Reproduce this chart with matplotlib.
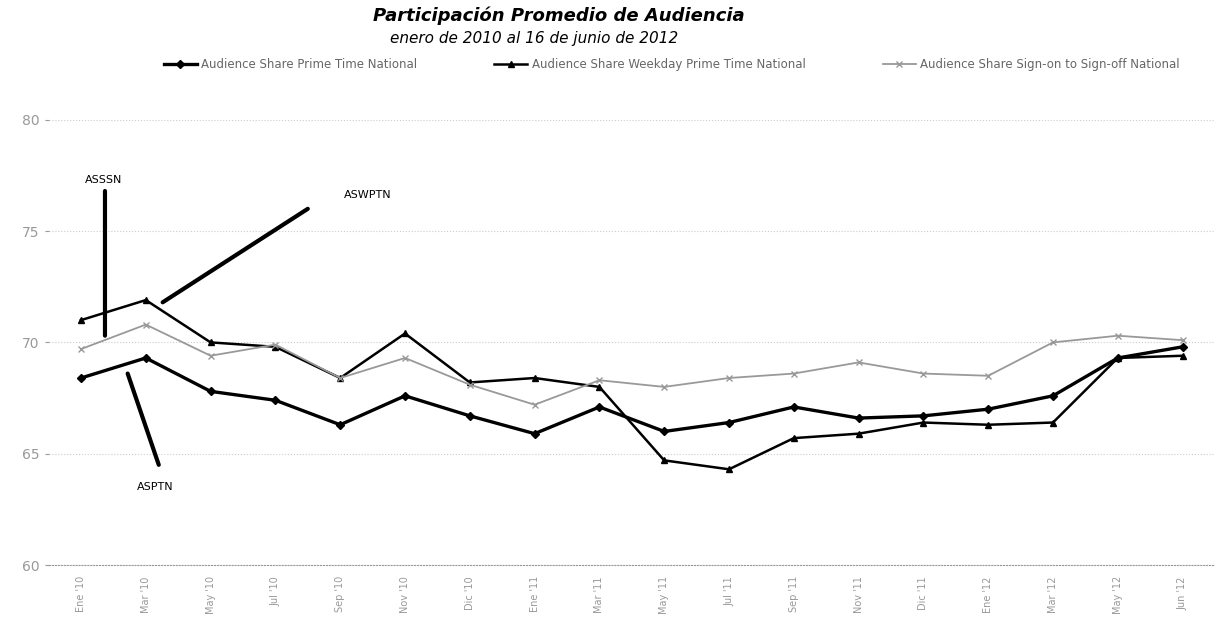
import matplotlib.pyplot as plt

months = ["Ene '10", "Mar '10", "May '10", "Jul '10", "Sep '10", "Nov '10", "Dic '10",
          "Ene '11", "Mar '11", "May '11", "Jul '11", "Sep '11", "Nov '11", "Dic '11",
          "Ene '12", "Mar '12", "May '12", "Jun '12"]

asptn = [68.4, 69.3, 67.8, 67.4, 66.3, 67.6, 66.7, 65.9, 67.1, 66.0, 66.4, 67.1,
         66.6, 66.7, 67.0, 67.6, 69.3, 69.8]
aswptn = [71.0, 71.9, 70.0, 69.8, 68.4, 70.4, 68.2, 68.4, 68.0, 64.7, 64.3, 65.7,
          65.9, 66.4, 66.3, 66.4, 69.3, 69.4]
asssn = [69.7, 70.8, 69.4, 69.9, 68.4, 69.3, 68.1, 67.2, 68.3, 68.0, 68.4, 68.6,
         69.1, 68.6, 68.5, 70.0, 70.3, 70.1]

yticks = [60, 65, 70, 75, 80]

fig = plt.figure(figsize=(12.15, 6.37), dpi=100)
ax = fig.add_axes([0.04, 0.113, 0.96, 0.699])

x = list(range(len(months)))
ax.plot(x, asptn, color='black', lw=2.4, marker='D', ms=4,
        label='Audience Share Prime Time National')
ax.plot(x, aswptn, color='black', lw=1.8, marker='^', ms=4,
        label='Audience Share Weekday Prime Time National')
ax.plot(x, asssn, color='#999999', lw=1.3, marker='x', ms=4,
        label='Audience Share Sign-on to Sign-off National')

ax.set_xlim(-0.5, len(months) - 0.5)
ax.set_ylim(60, 80)
ax.set_yticks(yticks)
ax.set_xticks(x)
ax.set_xticklabels(months, rotation=90, fontsize=7, color='#999999')
ax.tick_params(axis='y', labelsize=10, colors='#999999', length=3, direction='out')
ax.tick_params(axis='x', length=0, pad=8)
ax.yaxis.grid(True, linestyle=':', color='#cccccc', lw=0.8)

for side in ['top', 'right', 'left']:
    ax.spines[side].set_visible(False)
ax.spines['bottom'].set_linestyle(':')
ax.spines['bottom'].set_color('#999999')

# callout labels
arrow = dict(arrowstyle='-', lw=3, color='black', shrinkA=0, shrinkB=0)
ax.annotate('', xy=(0.37, 70.3), xytext=(0.37, 76.8), arrowprops=arrow)
ax.text(0.35, 77.3, 'ASSSN', ha='center', va='center', fontsize=8)
ax.annotate('', xy=(1.26, 71.8), xytext=(3.5, 76.0), arrowprops=arrow)
ax.text(4.05, 76.6, 'ASWPTN', ha='left', va='center', fontsize=8)
ax.annotate('', xy=(1.2, 64.5), xytext=(0.72, 68.6), arrowprops=arrow)
ax.text(1.15, 63.5, 'ASPTN', ha='center', va='center', fontsize=8)

fig.legend(loc='upper center', bbox_to_anchor=(0.553, 0.925), ncol=3, frameon=False,
           fontsize=8.5, handlelength=2.8, handletextpad=0.4, columnspacing=6.5,
           labelcolor='#666666')

fig.text(0.46, 0.975, 'Participación Promedio de Audiencia', ha='center', va='center',
         fontsize=13, style='italic', weight='bold')
fig.text(0.44, 0.94, 'enero de 2010 al 16 de junio de 2012', ha='center', va='center',
         fontsize=11, style='italic')

fig.savefig('out.png', dpi=100)
